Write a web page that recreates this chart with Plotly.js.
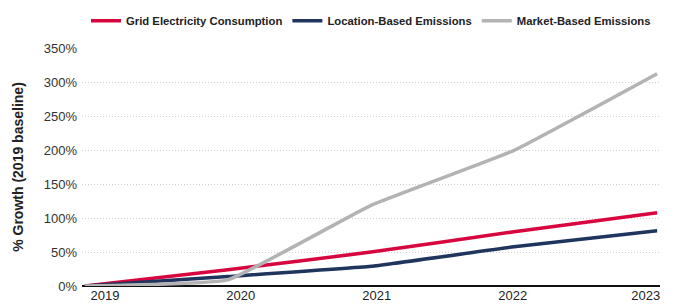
<!DOCTYPE html>
<html>
<head>
<meta charset="utf-8">
<script src="https://cdn.plot.ly/plotly-3.0.1.min.js"></script>
<style>html,body{margin:0;padding:0;background:#fff}#chart{width:676px;height:307px}</style>
</head>
<body>
<div id="chart"></div>
<script>
const years = [2019, 2020, 2021, 2022, 2023];
const yearLabels = ['2019', '2020', '2021', '2022', '2023'];
const gridElectricity = [0, 24, 50, 80, 108];
const locationBased = [0, 14, 29, 58, 81.5];
const marketBased = [0, 9, 119, 200, 313];
const yTicks = [0, 50, 100, 150, 200, 250, 300, 350];

const lineW = 3.5;
const traces = [
  {x: years, y: gridElectricity, name: 'Grid Electricity Consumption', type: 'scatter', mode: 'lines',
   line: {color: '#d7063f', width: lineW, shape: 'spline', smoothing: 0.3}},
  {x: years, y: locationBased, name: 'Location-Based Emissions', type: 'scatter', mode: 'lines',
   line: {color: '#1f355e', width: lineW, shape: 'spline', smoothing: 0.3}},
  {x: years, y: marketBased, name: 'Market-Based Emissions', type: 'scatter', mode: 'lines',
   line: {color: '#b3b3b3', width: lineW, shape: 'spline', smoothing: 0.3}}
];

// label positions are slightly offset from the data points in the reference
const labelShift = [0.14, 0.09, 0.04, -0.01, -0.08];
const tickPos = years.map((y, i) => y + labelShift[i]);

const layout = {
  width: 676, height: 307,
  margin: {l: 82, r: 16, t: 48, b: 20.5, autoexpand: false},
  paper_bgcolor: '#fff', plot_bgcolor: '#fff',
  font: {family: 'Liberation Sans, Arial, sans-serif', size: 13, color: '#333'},
  showlegend: true,
  legend: {orientation: 'h', x: 0.5, xanchor: 'center', y: 1.115, yanchor: 'middle',
    font: {family: 'Liberation Sans, Arial, sans-serif', size: 11.3, color: '#222', weight: 'bold'},
    itemwidth: 30, tracegroupgap: 0},
  xaxis: {range: [2018.98, 2023.02], tickmode: 'array', tickvals: tickPos, ticktext: yearLabels,
    showgrid: false, zeroline: false, showline: false, ticks: '', fixedrange: true,
    automargin: false, tickfont: {size: 13, color: '#222'}},
  yaxis: {range: [0, 351], tickmode: 'array', tickvals: yTicks, ticktext: yTicks.map(v => v + '%'),
    showgrid: true, gridcolor: '#cfcfcf', griddash: '1px,2px', gridwidth: 1,
    zeroline: true, zerolinecolor: '#111', zerolinewidth: 1.5, automargin: false,
    ticks: '', ticklabelstandoff: 4, tickfont: {size: 13, color: '#333'},
    title: {text: '% Growth (2019 baseline)', standoff: 16,
      font: {family: 'Liberation Sans, Arial, sans-serif', size: 14, color: '#222', weight: 'bold'}}}
};

Plotly.newPlot('chart', traces, layout, {displayModeBar: false, staticPlot: true});
</script>
</body>
</html>
